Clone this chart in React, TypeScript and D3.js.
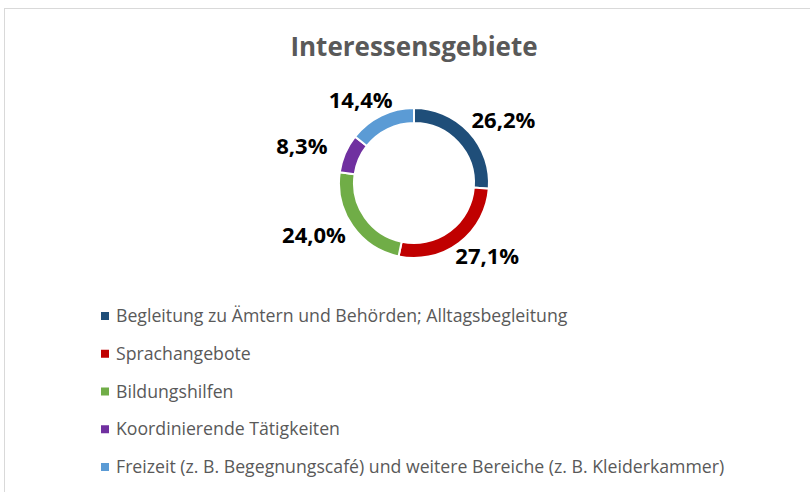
import * as d3 from 'd3';

// Interessensgebiete - share per category
const categories = [
  'Begleitung zu Ämtern und Behörden; Alltagsbegleitung',
  'Sprachangebote',
  'Bildungshilfen',
  'Koordinierende Tätigkeiten',
  'Freizeit (z. B. Begegnungscafé) und weitere Bereiche (z. B. Kleiderkammer)',
];
const shares = [26.2, 27.1, 24.0, 8.3, 14.4];
const colors = ['#1f4e79', '#c00000', '#70ad47', '#7030a0', '#5b9bd5'];

const width = 810;
const height = 492;
const font = '"Open Sans", Lato, sans-serif';

export default function App() {
  const cx = 414;
  const cy = 183;
  const outerR = 75;
  const innerR = 60;

  const pie = d3.pie<number>().sort(null).value(d => d);
  const arcs = pie(shares);
  const arc = d3.arc<d3.PieArcDatum<number>>().innerRadius(innerR).outerRadius(outerR);

  // labels sit on an ellipse around the ring (wider than tall, like Excel's best fit)
  const labelRx = 122;
  const labelRy = 92;

  const fmt = (v: number) => v.toFixed(1).replace('.', ',') + '%';

  // legend rows
  const legendY = d3.scalePoint<string>().domain(categories).range([316, 467]);

  return (
    <svg width={width} height={height} style={{ position: 'absolute', left: 0, top: 0, background: '#fff' }}>
      <rect x={4.5} y={8.5} width={width} height={height} fill='#fff' stroke='#d9d9d9' />
      <text x={cx} y={56} textAnchor='middle' fontFamily={font} fontWeight='bold' fontSize={26} fill='#595959'>
        Interessensgebiete
      </text>
      <g transform={`translate(${cx},${cy})`}>
        {arcs.map((a, i) => (
          <path key={i} d={arc(a) as string} fill={colors[i]} stroke='#fff' strokeWidth={2} />
        ))}
        {arcs.map((a, i) => {
          const mid = (a.startAngle + a.endAngle) / 2;
          const lx = Math.sin(mid) * labelRx;
          const ly = -Math.cos(mid) * labelRy;
          return (
            <text key={'l' + i} x={lx} y={ly} dy='0.35em' textAnchor='middle'
              fontFamily={font} fontWeight='bold' fontSize={22} fill='#000'>
              {fmt(shares[i])}
            </text>
          );
        })}
      </g>
      <g>
        {categories.map((c, i) => (
          <g key={c} transform={`translate(0,${legendY(c)})`}>
            <rect x={101} y={-4} width={8} height={8} fill={colors[i]} />
            <text x={116} y={0} dy='0.35em' fontFamily={font} fontSize={17.7} fill='#595959'>{c}</text>
          </g>
        ))}
      </g>
    </svg>
  );
}
